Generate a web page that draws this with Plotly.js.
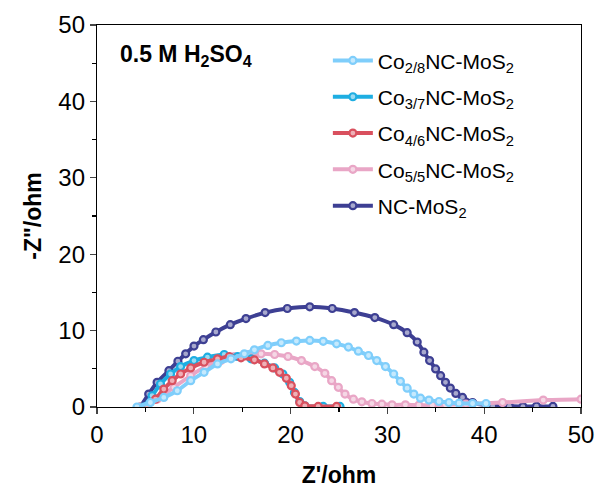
<!DOCTYPE html>
<html>
<head>
<meta charset="utf-8">
<script src="https://cdn.plot.ly/plotly-3.0.1.min.js"></script>
<style>html,body{margin:0;padding:0;background:#fff;}#chart{width:596px;height:488px;}</style>
</head>
<body>
<div id="chart"></div>
<script>
// Series names
const seriesNames = [
  "Co<sub>2/8</sub>NC-MoS<sub>2</sub>",
  "Co<sub>3/7</sub>NC-MoS<sub>2</sub>",
  "Co<sub>4/6</sub>NC-MoS<sub>2</sub>",
  "Co<sub>5/5</sub>NC-MoS<sub>2</sub>",
  "NC-MoS<sub>2</sub>"
];
const seriesColors = ["#7fcefb", "#1eaee2", "#d9505e", "#e9a6c6", "#3d3f93"];

// Co2/8 NC-MoS2
const co28_x = [4.13,5.52,6.90,8.29,9.68,11.06,12.45,13.84,15.22,16.26,17.65,19.04,20.6,21.98,23.37,24.75,25.97,27.0,28.05,28.9,29.8,30.65,31.34,32.04,32.73,33.42,34.29,35.33,36.36,37.4,38.8,40.19];
const co28_y = [0.0,0.59,1.25,2.13,3.44,4.54,5.64,6.30,6.96,7.49,8.06,8.41,8.63,8.72,8.60,8.27,7.84,7.31,6.74,6.08,5.29,4.32,3.36,2.47,1.69,1.16,0.90,0.72,0.59,0.50,0.46,0.46];

// Co3/7 NC-MoS2
const co37_x = [4.82,5.69,6.56,7.6,8.64,10.02,11.41,13.14,14.53,15.92,17.3,18.35,19.2,19.9,20.4,20.94,21.47,23.37,25.1];
const co37_y = [0.0,1.47,3.01,4.32,5.29,6.08,6.52,6.87,6.61,6.30,5.73,5.11,4.32,3.23,1.91,0.72,0.16,0.08,0.08];

// Co4/6 NC-MoS2
const co46_x = [5.17,6.04,6.90,7.77,8.64,9.68,11.06,12.45,13.66,14.88,16.26,17.3,18.17,18.86,19.56,20.07,20.5,20.94,21.47,22.85,24.75];
const co46_y = [0.0,1.03,2.35,3.44,4.32,5.11,5.86,6.30,6.61,6.43,6.17,5.64,5.11,4.54,3.76,2.79,1.69,0.59,0.16,0.08,0.08];

// Co5/5 NC-MoS2
const co55_x = [4.47,6.21,7.94,9.68,11.24,12.8,14.18,15.57,16.95,18.35,19.73,21.12,22.5,23.54,24.24,24.93,25.62,26.49,27.36,28.4,29.43,30.48,31.86,33.25,34.64,36.0,38.1,41.9,46.1,50.0];
const co55_y = [0.0,1.03,2.57,4.11,5.29,6.08,6.61,6.87,6.96,6.87,6.61,6.08,5.29,4.41,3.44,2.57,1.69,1.03,0.68,0.46,0.37,0.28,0.28,0.24,0.24,0.28,0.37,0.59,0.90,1.03];

// NC-MoS2
const nc_x = [4.47,5.34,6.21,7.43,8.36,9.16,10.02,10.99,12.28,13.77,15.39,17.37,19.66,21.98,24.3,26.6,28.7,30.65,32.04,33.08,33.77,34.36,34.98,35.5,36.0,36.5,37.07,37.76,38.8,40.88,42.6,44.0,45.4,47.1];
const nc_y = [0.0,1.69,3.23,4.76,5.99,6.96,7.97,8.81,9.82,10.78,11.57,12.36,12.89,13.11,12.89,12.36,11.70,10.78,9.73,8.50,7.18,6.08,4.98,4.10,3.23,2.48,1.78,1.25,0.59,0.16,0.10,0.05,0.10,0.07];

// Tick labels
const xTickVals = [0,10,20,30,40,50];
const yTickVals = [0,10,20,30,40,50];

const xs = [co28_x, co37_x, co46_x, co55_x, nc_x];
const ys = [co28_y, co37_y, co46_y, co55_y, nc_y];
const drawOrder = [4, 3, 1, 2, 0];

function tint(hex, f){
  const r=parseInt(hex.slice(1,3),16), g=parseInt(hex.slice(3,5),16), b=parseInt(hex.slice(5,7),16);
  const m=c=>Math.round(c+(255-c)*f);
  return `rgb(${m(r)},${m(g)},${m(b)})`;
}

const traces = drawOrder.map(i => ({
  x: xs[i], y: ys[i], name: seriesNames[i],
  type: 'scatter', mode: 'lines+markers',
  legendgroup: 'g'+i, legendrank: i+1,
  line: {color: seriesColors[i], width: 4, shape: 'spline', smoothing: 0.6},
  marker: {symbol: 'circle', size: 7, color: tint(seriesColors[i], 0.55), line: {color: seriesColors[i], width: 2.2}}
}));

const FAM = 'Arial, "Liberation Sans", sans-serif';
const axisFont = {family: FAM, size: 24, color: '#000'};

const layout = {
  width: 596, height: 488,
  margin: {l: 97, r: 15, t: 25, b: 81},
  paper_bgcolor: '#fff', plot_bgcolor: '#fff',
  font: axisFont,
  showlegend: true,
  legend: {
    x: 0.477, y: 0.96, xanchor: 'left', yanchor: 'top',
    traceorder: 'grouped', tracegroupgap: 6,
    font: {family: FAM, size: 21, color: '#000'},
    bgcolor: 'rgba(0,0,0,0)', itemwidth: 40
  },
  xaxis: {
    range: [0, 50], tickvals: xTickVals, ticks: 'outside', ticklen: 6, tickwidth: 1.2,
    showline: true, linecolor: '#000', linewidth: 1.2, mirror: true, showgrid: false, zeroline: false,
    tickfont: axisFont,
    minor: {dtick: 5, tick0: 0, ticks: 'outside', ticklen: 4, tickwidth: 1.2, tickcolor: '#000', showgrid: false},
    title: {text: "<b>Z'/ohm</b>", font: {family: FAM, size: 23, color: '#000'}, standoff: 21}
  },
  yaxis: {
    range: [0, 50], tickvals: yTickVals, ticks: 'outside', ticklen: 6, tickwidth: 1.2,
    showline: true, linecolor: '#000', linewidth: 1.2, mirror: true, showgrid: false, zeroline: false,
    tickfont: axisFont,
    minor: {dtick: 5, tick0: 0, ticks: 'outside', ticklen: 4, tickwidth: 1.2, tickcolor: '#000', showgrid: false},
    title: {text: '<b>-Z"/ohm</b>', font: {family: FAM, size: 23, color: '#000'}, standoff: 10}
  },
  annotations: [{
    xref: 'paper', yref: 'paper', x: 0.043, y: 0.919, xanchor: 'left', yanchor: 'middle',
    text: '<b>0.5 M H<sub>2</sub>SO<sub>4</sub></b>', showarrow: false,
    font: {family: FAM, size: 23, color: '#000'}
  }]
};

Plotly.newPlot('chart', traces, layout, {displayModeBar: false, staticPlot: true});
</script>
</body>
</html>
